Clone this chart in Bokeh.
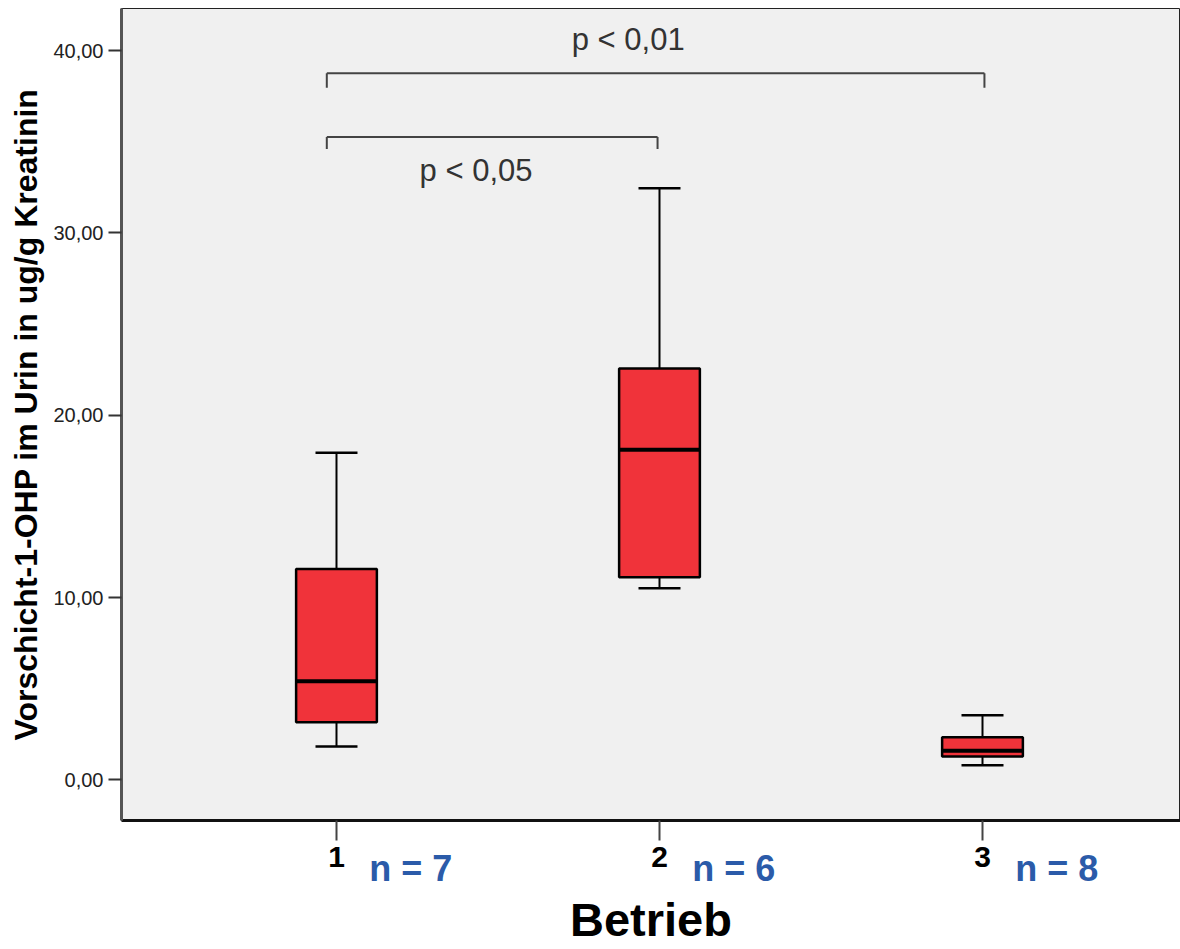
from bokeh.plotting import figure
from bokeh.models import FixedTicker, Label, Range1d, LinearAxis
from bokeh.embed import file_html
from bokeh.resources import INLINE

# ---- data ----
groups = [1, 2, 3]
group_labels = ["1", "2", "3"]
n_counts = [7, 6, 8]
whisker_low = [1.83, 10.51, 0.80]
q1 = [3.16, 11.11, 1.28]
median = [5.41, 18.10, 1.60]
q3 = [11.57, 22.56, 2.34]
whisker_high = [17.94, 32.45, 3.54]

y_ticks = [0, 10, 20, 30, 40]
y_tick_labels = ["0,00", "10,00", "20,00", "30,00", "40,00"]

bracket_x0 = [0.97, 0.97]
bracket_x1 = [3.006, 1.994]
bracket_y = [38.76, 35.26]
bracket_drop = [0.8, 0.65]
bracket_text = ["p < 0,01", "p < 0,05"]
bracket_text_x = [1.903, 1.432]
bracket_text_y = [40.6, 33.4]

FONT = "Liberation Sans"
BOX_W = 0.25
CAP_W = 0.13
N_SHIFT = 0.23  # n-labels sit right of each category tick

p = figure(width=1180, height=949, output_backend="svg", toolbar_location=None,
           x_range=Range1d(0.3344, 3.613), y_range=Range1d(-2.23, 42.31),
           min_border_left=121, min_border_right=0, min_border_top=8, min_border_bottom=129)

p.background_fill_color = "#F0F0F0"
p.border_fill_color = "white"
p.outline_line_color = "#222222"
p.outline_line_width = 1
p.xgrid.visible = False
p.ygrid.visible = False

# whiskers
p.segment(x0=groups, y0=whisker_low, x1=groups, y1=q1, line_color="black", line_width=2)
p.segment(x0=groups, y0=q3, x1=groups, y1=whisker_high, line_color="black", line_width=2)
cap_l = [g - CAP_W / 2 for g in groups]
cap_r = [g + CAP_W / 2 for g in groups]
p.segment(x0=cap_l, y0=whisker_low, x1=cap_r, y1=whisker_low, line_color="black", line_width=2.5)
p.segment(x0=cap_l, y0=whisker_high, x1=cap_r, y1=whisker_high, line_color="black", line_width=2.5)

# boxes
p.vbar(x=groups, width=BOX_W, bottom=q1, top=q3, fill_color="#F0333A",
       line_color="black", line_width=2.5)
box_l = [g - BOX_W / 2 for g in groups]
box_r = [g + BOX_W / 2 for g in groups]
p.segment(x0=box_l, y0=median, x1=box_r, y1=median, line_color="black", line_width=4)

# significance brackets
bracket_low = [y - d for y, d in zip(bracket_y, bracket_drop)]
p.segment(x0=bracket_x0, y0=bracket_y, x1=bracket_x1, y1=bracket_y, line_color="#444444", line_width=2)
p.segment(x0=bracket_x0, y0=bracket_y, x1=bracket_x0, y1=bracket_low, line_color="#444444", line_width=2)
p.segment(x0=bracket_x1, y0=bracket_y, x1=bracket_x1, y1=bracket_low, line_color="#444444", line_width=2)
for tx, ty, t in zip(bracket_text_x, bracket_text_y, bracket_text):
    p.add_layout(Label(x=tx, y=ty, text=t, text_font=FONT, text_font_size="31px",
                       text_color="#333333", text_align="center", text_baseline="alphabetic"))

# y axis
p.yaxis.ticker = FixedTicker(ticks=y_ticks)
p.yaxis.major_label_overrides = {t: l for t, l in zip(y_ticks, y_tick_labels)}
p.yaxis.axis_label = "Vorschicht-1-OHP im Urin in ug/g Kreatinin"
p.yaxis.axis_label_text_font = FONT
p.yaxis.axis_label_text_font_size = "32px"
p.yaxis.axis_label_text_font_style = "bold"
p.yaxis.axis_label_text_color = "black"
p.yaxis.axis_label_standoff = 6
p.yaxis.major_label_text_font = FONT
p.yaxis.major_label_text_font_size = "20px"
p.yaxis.major_label_text_color = "#222222"
p.yaxis.major_label_standoff = 5
p.yaxis.axis_line_color = "#555555"
p.yaxis.axis_line_width = 3
p.yaxis.major_tick_line_color = "#333333"
p.yaxis.major_tick_line_width = 2
p.yaxis.major_tick_out = 13
p.yaxis.major_tick_in = 0
p.yaxis.minor_tick_line_color = None

# main x axis: category numbers
ax1 = p.xaxis[0]
ax1.ticker = FixedTicker(ticks=groups)
ax1.major_label_overrides = {g: l for g, l in zip(groups, group_labels)}
ax1.major_label_text_font = FONT
ax1.major_label_text_font_size = "30px"
ax1.major_label_text_font_style = "bold"
ax1.major_label_text_color = "black"
ax1.major_label_standoff = 6
ax1.axis_line_color = "#111111"
ax1.axis_line_width = 3
ax1.major_tick_line_color = "#444444"
ax1.major_tick_line_width = 2
ax1.major_tick_out = 20
ax1.major_tick_in = 0
ax1.minor_tick_line_color = None

# second x axis: group sizes (n) and the axis title
n_pos = [g + N_SHIFT for g in groups]
ax2 = LinearAxis(ticker=FixedTicker(ticks=n_pos),
                 major_label_overrides={x: f"n = {n}" for x, n in zip(n_pos, n_counts)})
ax2.major_label_text_font = FONT
ax2.major_label_text_font_size = "36px"
ax2.major_label_text_font_style = "bold"
ax2.major_label_text_color = "#2B5BA9"
ax2.major_label_standoff = -22
ax2.axis_line_color = None
ax2.major_tick_line_color = None
ax2.minor_tick_line_color = None
ax2.major_tick_out = 0
ax2.major_tick_in = 0
ax2.axis_label = "Betrieb"
ax2.axis_label_text_font = FONT
ax2.axis_label_text_font_size = "47px"
ax2.axis_label_text_font_style = "bold"
ax2.axis_label_text_color = "black"
ax2.axis_label_standoff = 1
p.add_layout(ax2, "below")

open("out.html", "w").write(file_html(p, INLINE))
